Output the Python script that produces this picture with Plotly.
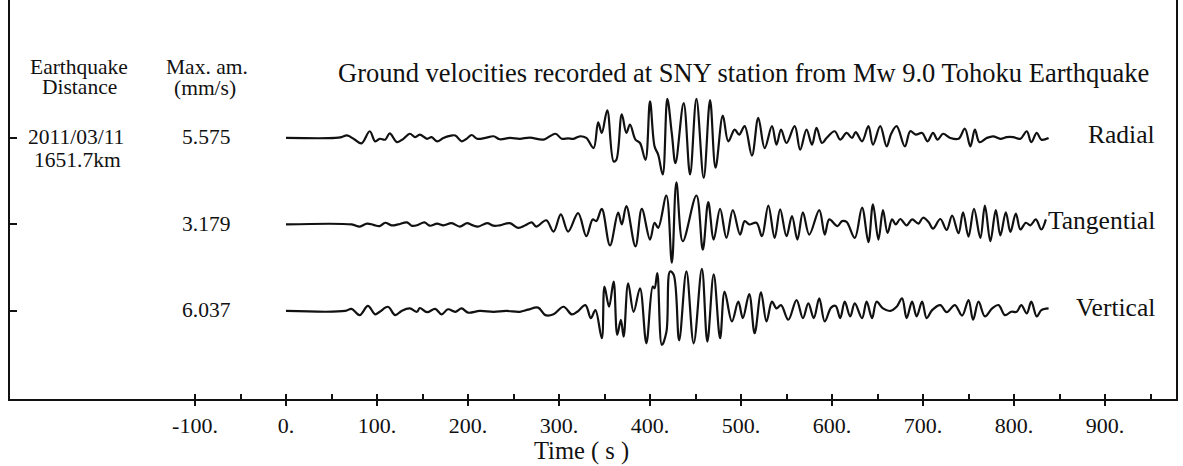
import plotly.graph_objects as go

# ---------------- data ----------------
components = ["Radial", "Tangential", "Vertical"]
max_amp_mm_s = ["5.575", "3.179", "6.037"]
event_date = "2011/03/11"
event_distance = "1651.7km"

# time (s) and normalised amplitude (fraction of each trace's max)
radial_t = [0, 54, 61, 67, 75, 83, 92, 98, 103, 109, 114, 122, 129, 136, 142, 147, 155, 160, 166, 173,
            180, 186, 193, 199, 204, 210, 219, 228, 235, 246, 257, 268, 283, 296, 303, 310, 316, 323, 330,
            338, 343, 347, 353, 360, 363, 369, 374, 378, 384, 389, 395, 400, 405, 409, 414, 419, 424, 428,
            437, 444, 451, 459, 466, 472, 480, 486, 493, 498, 504, 512, 519, 526, 534, 539, 544, 550, 559,
            565, 572, 578, 583, 589, 594, 603, 609, 616, 622, 626, 633, 640, 645, 653, 660, 665, 671, 680,
            686, 692, 699, 705, 711, 716, 722, 730, 739, 746, 752, 757, 762, 770, 777, 785, 792, 799, 807,
            814, 819, 825, 830, 838]
radial_amp = [0, 0, 0.02, 0.06, -0.03, -0.13, 0.16, -0.08, -0.02, -0.04, 0.11, -0.10, -0.02, 0.10, 0.02,
              0.08, -0.02, 0.02, -0.08, 0.0, 0.05, 0.06, -0.08, -0.01, 0.07, -0.02, 0.0, 0.04, -0.03, 0.0,
              -0.02, 0.01, -0.04, 0.10, -0.02, -0.01, -0.02, 0.04, 0.0, -0.24, 0.37, 0.12, 0.66, -0.56, -0.52,
              0.56, 0.12, 0.32, -0.04, -0.12, -0.52, 0.87, -0.2, -0.4, -0.87, 0.93, 0.1, -0.6, 0.83, -0.87,
              0.93, -0.95, 0.9, -0.71, 0.53, -0.08, 0.2, 0.08, 0.28, -0.42, 0.48, -0.24, 0.28, -0.16, 0.2,
              -0.12, 0.28, -0.28, 0.2, -0.16, 0.24, -0.12, 0.0, 0.16, -0.04, 0.12, 0.0, 0.14, -0.08, 0.28,
              -0.16, 0.28, -0.2, 0.1, 0.28, -0.2, 0.16, 0.08, 0.12, -0.08, 0.12, -0.04, 0.1, 0.0, -0.02, 0.22,
              -0.2, 0.2, -0.1, 0.0, 0.04, -0.02, 0.02, 0.02, -0.02, 0.16, -0.1, 0.12, -0.04, 0.0]

tangential_t = [0, 72, 81, 89, 96, 103, 109, 116, 123, 133, 138, 144, 152, 158, 166, 173, 182, 191, 199,
                204, 211, 221, 228, 235, 246, 255, 263, 270, 275, 286, 294, 302, 310, 321, 330, 337, 341,
                347, 356, 365, 369, 374, 384, 391, 400, 405, 409, 418, 424, 429, 436, 451, 458, 464, 470,
                477, 484, 491, 499, 504, 509, 517, 523, 530, 537, 543, 550, 556, 562, 568, 575, 586, 592,
                597, 606, 611, 616, 625, 633, 640, 645, 651, 656, 661, 666, 670, 675, 682, 688, 695, 700,
                706, 711, 719, 726, 732, 739, 744, 750, 756, 763, 768, 774, 780, 785, 791, 796, 802, 807,
                813, 818, 824, 830, 835]
tangential_amp = [0, 0, -0.05, 0.02, -0.01, -0.04, 0.04, -0.02, 0.0, 0.05, -0.03, -0.02, 0.05, -0.03,
                  0.02, -0.02, 0.03, -0.05, 0.03, -0.01, -0.05, 0.03, -0.03, -0.02, 0.03, -0.08, -0.02,
                  0.05, -0.05, 0.1, -0.17, 0.24, -0.17, 0.27, -0.28, 0.12, 0.08, 0.37, -0.5, 0.28, 0.0,
                  0.44, -0.52, 0.37, -0.36, 0.04, -0.08, 0.69, -0.91, 1.0, -0.4, 0.69, -0.6, 0.53, -0.36,
                  0.37, -0.32, 0.34, -0.24, 0.08, 0.0, 0.04, -0.28, 0.45, -0.32, 0.36, -0.28, 0.2, -0.36,
                  0.29, -0.24, 0.34, -0.24, 0.12, -0.04, 0.08, 0.06, -0.32, 0.4, -0.42, 0.48, -0.36, 0.34,
                  -0.2, 0.12, 0.0, 0.13, -0.02, 0.12, 0.02, 0.16, 0.06, -0.1, 0.13, -0.13, 0.21, -0.21,
                  0.29, -0.29, 0.37, -0.32, 0.45, -0.4, 0.34, -0.26, 0.29, -0.18, 0.26, -0.12, 0.04,
                  -0.02, 0.12, -0.12, 0.12]

vertical_t = [0, 65, 72, 81, 90, 98, 103, 112, 120, 127, 136, 144, 147, 155, 164, 171, 178, 186, 193, 200,
              213, 228, 242, 257, 266, 277, 285, 294, 305, 314, 320, 329, 335, 340, 347, 350, 355, 360,
              364, 368, 371, 376, 382, 389, 396, 403, 405, 408, 413, 418, 422, 426, 432, 440, 448, 457,
              463, 470, 477, 482, 490, 497, 502, 509, 515, 522, 528, 534, 539, 544, 552, 561, 568, 574,
              580, 586, 592, 599, 604, 609, 614, 620, 625, 633, 638, 644, 649, 656, 664, 671, 677, 682,
              688, 693, 699, 704, 710, 719, 726, 735, 743, 750, 755, 761, 768, 776, 783, 790, 797, 803,
              808, 814, 819, 825, 830, 838]
vertical_amp = [0, 0, 0.05, -0.1, 0.12, -0.08, -0.02, 0.1, -0.1, 0.0, 0.06, -0.02, 0.07, -0.03, 0.05,
                -0.08, 0.04, -0.02, 0.06, -0.04, 0.0, -0.02, 0.0, -0.02, 0.03, 0.08, -0.1, -0.08, 0.1,
                -0.08, -0.02, 0.14, -0.17, 0.02, -0.65, 0.58, 0.1, 0.7, -0.57, -0.21, -0.61, 0.66, -0.02,
                0.54, -0.77, 0.58, 0.54, 0.9, -0.81, -0.5, 0.94, 0.86, -0.7, 0.94, -0.77, 1.0, -0.73,
                0.87, -0.65, 0.46, -0.25, 0.22, -0.17, 0.4, -0.53, 0.44, -0.25, 0.22, 0.06, 0.14, -0.21,
                0.26, -0.17, 0.18, -0.17, 0.3, -0.25, 0.08, 0.12, -0.17, 0.22, -0.13, 0.18, -0.17, 0.22,
                -0.17, 0.22, 0.06, 0.0, 0.1, 0.3, -0.17, 0.22, -0.13, 0.22, -0.17, 0.02, 0.14, -0.03,
                0.14, -0.11, 0.26, -0.21, 0.22, -0.13, 0.06, 0.14, -0.1, -0.02, -0.02, 0.14, -0.06, 0.22,
                -0.13, 0.02, 0.06]

tick_values = [-100, 0, 100, 200, 300, 400, 500, 600, 700, 800, 900]
tick_labels = ["-100.", "0.", "100.", "200.", "300.", "400.", "500.", "600.", "700.", "800.", "900."]
minor_tick_values = [-100, -50, 0, 50, 100, 150, 200, 250, 300, 350, 400, 450, 500, 550, 600, 650,
                     700, 750, 800, 850, 900, 950]

# ---------------- layout constants ----------------
W, H = 1183, 466
ML, MR, MT, MB = 10, 7, 0, 67
PW, PH = W - ML - MR, H - MT - MB
X_RANGE = [-303.3, 978.0]
Y_RANGE = [-0.018, 4.595]
AMP_SCALE = 0.4855
offsets = [3, 2, 1]
FONT = "Liberation Serif, Times New Roman, serif"
INK = "#111111"


def px(x, y):
    return (x - ML) / PW, 1 - (y - MT) / PH


fig = go.Figure()
series = [(radial_t, radial_amp), (tangential_t, tangential_amp), (vertical_t, vertical_amp)]
for (tt, aa), off, name in zip(series, offsets, components):
    fig.add_trace(go.Scatter(
        x=tt, y=[off + AMP_SCALE * a for a in aa], mode="lines", name=name,
        line=dict(color=INK, width=2.2, shape="spline", smoothing=1.0),
        showlegend=False, hoverinfo="skip"))

# dummy trace for the overlaid axis that draws the inside ticks
fig.add_trace(go.Scatter(x=[None], y=[None], xaxis="x2", showlegend=False, hoverinfo="skip"))

annotations = []


def add_text(text, x, y, size, xanchor="center"):
    xp, yp = px(x, y)
    annotations.append(dict(text=text, x=xp, y=yp, xref="paper", yref="paper",
                            xanchor=xanchor, yanchor="middle", showarrow=False,
                            font=dict(family=FONT, size=size, color=INK)))


add_text("Earthquake", 79, 67, 21.5)
add_text("Distance", 79, 87, 21.5)
add_text("Max. am.", 207, 67, 21.5)
add_text("(mm/s)", 205, 88, 21.5)
add_text(event_date, 76, 137, 21.5)
add_text(event_distance, 77, 160, 21.5)
for val, yy in zip(max_amp_mm_s, [137, 224, 310]):
    add_text(val, 206, yy, 21.5)
add_text("Ground velocities recorded at SNY station from Mw 9.0 Tohoku Earthquake", 743, 73, 26.5)
for name, yy in zip(components, [134, 220, 307]):
    add_text(name, 1157, yy, 25.5, xanchor="right")
add_text("Time ( s )", 581, 451, 24.5)

fig.update_layout(
    width=W, height=H,
    margin=dict(l=ML, r=MR, t=MT, b=MB, autoexpand=False),
    paper_bgcolor="white", plot_bgcolor="white",
    annotations=annotations,
    xaxis=dict(range=X_RANGE, showgrid=False, zeroline=False, showline=True, automargin=False,
               linecolor=INK, linewidth=1.5, ticks="outside", ticklen=5, tickwidth=1.5,
               tickcolor=INK, tickvals=tick_values, ticktext=tick_labels, ticklabelstandoff=1,
               tickfont=dict(family=FONT, size=22, color=INK)),
    xaxis2=dict(range=X_RANGE, overlaying="x", anchor="y", side="bottom", showgrid=False,
                zeroline=False, showline=False, ticks="inside", ticklen=5, tickwidth=1.5,
                tickcolor=INK, tickvals=minor_tick_values, showticklabels=False),
    yaxis=dict(range=Y_RANGE, showgrid=False, zeroline=False, showline=True, mirror=True,
               automargin=False,
               linecolor=INK, linewidth=1.5, ticks="inside", ticklen=7, tickwidth=1.5,
               tickcolor=INK, tickvals=offsets, showticklabels=False),
)

fig.write_html("out.html", config={"displayModeBar": False},
               post_script="document.body.style.margin='0';")
